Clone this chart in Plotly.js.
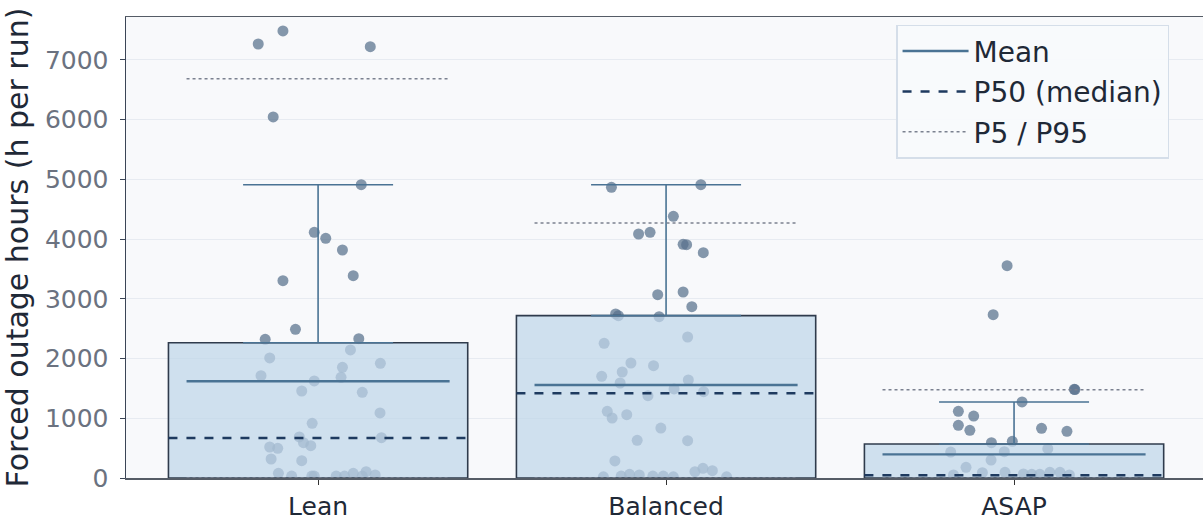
<!DOCTYPE html>
<html>
<head>
<meta charset="utf-8">
<script src="https://cdn.plot.ly/plotly-3.0.1.min.js"></script>
<style>html,body{margin:0;padding:0;background:#fff;overflow:hidden}#chart{width:1203px;height:519px}</style>
</head>
<body>
<div id="chart"></div>
<script>
const categories = ["Lean", "Balanced", "ASAP"];
const barTop = [2266, 2719, 569];
const errTop = [4912, 4912, 1273];
const meanVals = [1619, 1558, 396];
const p50Vals = [670, 1418, 45];
const p5Vals = [0, 0, 0];
const p95Vals = [6688, 4271, 1479];

// individual runs: values and horizontal jitter (category-relative)
const leanRuns = [7268, 7486, 7223, 6046, 4912, 4114, 4014, 3818, 3305, 3388, 2490, 2323, 2333, 2144, 2010, 1920, 1854, 1713, 1686, 1625, 1457, 1435, 1089, 916, 687, 675, 591, 541, 519, 497, 318, 290, 78, 33, 33, 33, 33, 33, 78, 33, 105, 50];
const leanJitter = [-0.172, -0.101, 0.150, -0.129, 0.124, -0.011, 0.022, 0.070, -0.101, 0.101, -0.065, -0.152, 0.117, 0.093, -0.139, 0.179, 0.070, -0.164, 0.066, -0.011, -0.047, 0.127, 0.178, -0.017, -0.054, 0.182, -0.042, -0.021, -0.139, -0.116, -0.135, -0.047, -0.114, -0.076, -0.018, -0.011, 0.052, 0.076, 0.101, 0.127, 0.138, 0.164];
const balancedRuns = [4868, 4912, 4383, 4086, 4114, 3914, 3908, 3773, 3070, 3115, 2869, 2747, 2718, 2702, 2361, 2256, 1926, 1881, 1775, 1703, 1641, 1591, 1491, 1446, 1379, 1117, 1005, 1060, 837, 631, 625, 285, 20, 33, 61, 50, 33, 33, 20, 105, 162, 123, 20];
const balancedJitter = [-0.157, 0.100, 0.021, -0.079, -0.046, 0.049, 0.059, 0.107, -0.024, 0.049, 0.074, -0.145, -0.137, -0.020, 0.062, -0.178, -0.101, -0.036, -0.126, -0.185, 0.064, -0.132, 0.023, 0.108, -0.052, -0.169, -0.155, -0.113, -0.015, -0.083, 0.062, -0.147, -0.180, -0.129, -0.105, -0.077, -0.038, -0.008, 0.021, 0.083, 0.106, 0.133, 0.174];
const asapRuns = [3556, 2735, 1485, 1480, 1273, 1117, 1038, 882, 798, 832, 782, 592, 614, 435, 441, 491, 301, 179, 50, 89, 95, 67, 62, 62, 95, 95, 50];
const asapJitter = [-0.020, -0.060, 0.173, 0.175, 0.023, -0.160, -0.116, -0.160, -0.127, 0.079, 0.152, -0.065, -0.005, -0.182, -0.028, 0.097, -0.066, -0.138, -0.174, -0.091, -0.026, 0.027, 0.051, 0.074, 0.103, 0.132, 0.159];

const runs = [leanRuns, balancedRuns, asapRuns];
const jitter = [leanJitter, balancedJitter, asapJitter];

const idx = categories.map((_, i) => i);
const lineHalf = 0.378;
const barW = 0.86;

function segs(vals, half) {
  const xs = [], ys = [];
  vals.forEach((v, i) => { xs.push(i - half, i + half, null); ys.push(v, v, null); });
  return {x: xs, y: ys};
}

const traces = [];
// points (bottom subplot)
runs.forEach((r, i) => {
  traces.push({
    type: 'scatter', mode: 'markers', xaxis: 'x', yaxis: 'y',
    x: r.map((_, k) => i + jitter[i][k]), y: r,
    marker: {size: 11, color: 'rgba(88,112,140,0.72)', line: {width: 0}},
    showlegend: false, hoverinfo: 'skip'
  });
});
// bars on overlay
traces.push({
  type: 'bar', xaxis: 'x2', yaxis: 'y',
  x: idx, y: barTop, width: barW,
  marker: {color: 'rgba(191,213,233,0.72)', line: {color: '#2f3b4c', width: 1.6}},
  error_y: {type: 'data', symmetric: false,
    array: errTop.map((v, i) => v - barTop[i]), arrayminus: barTop.map(() => 0),
    color: '#4a7394', thickness: 1.6, width: 75},
  showlegend: false, hoverinfo: 'skip'
});
const m = segs(meanVals, lineHalf);
traces.push({type: 'scatter', mode: 'lines', xaxis: 'x2', yaxis: 'y', x: m.x, y: m.y,
  name: 'Mean', legendgroup: 'a', line: {color: '#4a7394', width: 2.4}});
const md = segs(p50Vals, barW / 2);
traces.push({type: 'scatter', mode: 'lines', xaxis: 'x2', yaxis: 'y', x: md.x, y: md.y,
  name: 'P50 (median)', legendgroup: 'b', line: {color: '#1e3a5f', width: 2.6, dash: 'dash'}});
const p5 = segs(p5Vals, lineHalf), p95 = segs(p95Vals, lineHalf);
traces.push({type: 'scatter', mode: 'lines', xaxis: 'x2', yaxis: 'y',
  x: p5.x.concat(p95.x), y: p5.y.concat(p95.y),
  name: 'P5 / P95', legendgroup: 'c', line: {color: '#7b8190', width: 1.5, dash: 'dot'}});

const xr = [-0.552, 2.543];
const layout = {
  width: 1203, height: 519,
  margin: {l: 126, r: 0, t: 17, b: 41},
  paper_bgcolor: '#ffffff', plot_bgcolor: '#f8f9fb',
  font: {family: 'DejaVu Sans', color: '#1f2937'},
  showlegend: true,
  legend: {x: 0.715, y: 0.983, xanchor: 'left', yanchor: 'top',
    bgcolor: 'rgba(248,250,252,0.95)', bordercolor: '#d5dee9', borderwidth: 1.5,
    font: {size: 28, color: '#1f2937'}, traceorder: 'grouped', tracegroupgap: 1, itemwidth: 66},
  xaxis: {range: xr, tickvals: idx, ticktext: categories, showgrid: false, zeroline: false,
    showline: true, linecolor: '#555c66', linewidth: 1.5, mirror: true,
    ticks: 'outside', ticklen: 5, tickcolor: '#333', tickfont: {size: 25, color: '#1f2937'}},
  xaxis2: {range: xr, overlaying: 'x', visible: false, showgrid: false, zeroline: false},
  yaxis: {range: [0, 7720], dtick: 1000, tick0: 0, zeroline: false,
    gridcolor: '#e7ebf1', gridwidth: 1,
    showline: true, linecolor: '#3b4556', linewidth: 1.5,
    ticks: 'outside', ticklen: 5, tickcolor: '#3b4556', ticklabelstandoff: 6,
    tickfont: {size: 25, color: '#6b7280'},
    title: {text: 'Forced outage hours (h per run)', font: {size: 30, color: '#1f2937'}, standoff: 8}},
  bargap: 0
};
Plotly.newPlot('chart', traces, layout, {displayModeBar: false, staticPlot: true});
</script>
</body>
</html>
